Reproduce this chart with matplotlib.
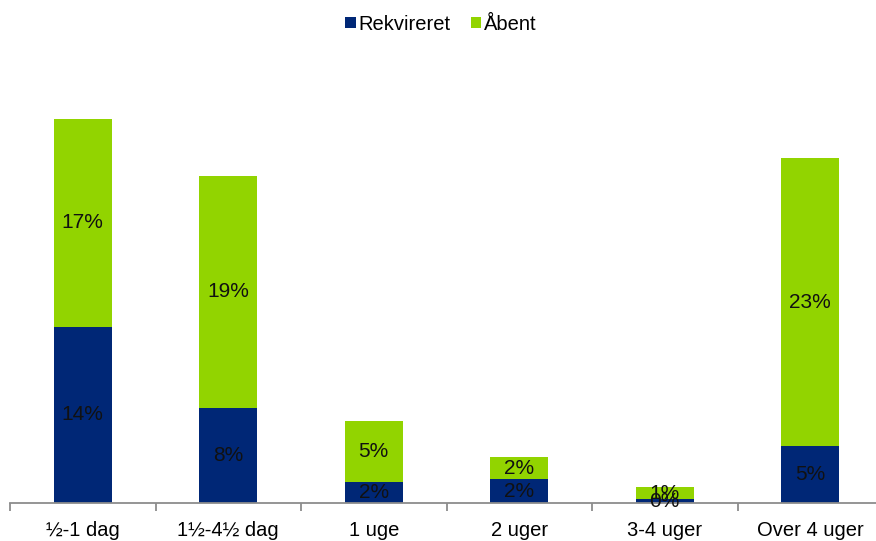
import matplotlib.pyplot as plt
import numpy as np

categories = ["½-1 dag", "1½-4½ dag", "1 uge", "2 uger", "3-4 uger", "Over 4 uger"]
rekvireret = [14.2, 7.7, 1.7, 1.9, 0.3, 4.6]
aabent = [16.8, 18.7, 4.9, 1.8, 1.0, 23.2]

BLUE = "#002776"
GREEN = "#92D400"
FS = 14.5

plt.rcParams["font.family"] = ["Liberation Sans", "DejaVu Sans"]

fig = plt.figure(figsize=(8.76, 5.41), dpi=100)
W, H = 876, 541
# 12.4 px per percent point
ax = fig.add_axes([10 / W, 38 / H, 873 / W, 33 * 12.4 / H])

x = np.arange(len(categories))
b1 = ax.bar(x, rekvireret, width=0.4, color=BLUE, label="Rekvireret")
b2 = ax.bar(x, aabent, width=0.4, bottom=rekvireret, color=GREEN, label="Åbent")

for i in range(len(categories)):
    ax.text(x[i], rekvireret[i] / 2, f"{rekvireret[i]:.0f}%", ha="center", va="center",
            fontsize=FS + 0.5, color="#111111")
    ax.text(x[i], rekvireret[i] + aabent[i] / 2, f"{aabent[i]:.0f}%", ha="center", va="center",
            fontsize=FS + 0.5, color="#111111")

ax.set_xlim(-0.5, len(categories) - 0.5)
ax.set_ylim(0, 33)
ax.set_yticks([])
for s in ["top", "right", "left"]:
    ax.spines[s].set_visible(False)
ax.spines["bottom"].set_color("#8c8c8c")
ax.spines["bottom"].set_linewidth(1.3)

ax.set_xticks(x)
ax.set_xticklabels(categories, fontsize=FS)
ax.tick_params(axis="x", which="major", length=0, pad=13)
ax.set_xticks(np.arange(-0.5, len(categories), 1.0), minor=True)
ax.tick_params(axis="x", which="minor", length=6, width=1.3, color="#8c8c8c")

fig.legend(handles=[b1, b2], loc="center", bbox_to_anchor=(441 / W, 1 - 24 / H), ncol=2,
           frameon=False, fontsize=FS, handlelength=0.5, handleheight=0.5,
           handletextpad=0.15, columnspacing=1.0)

fig.savefig("out.png", dpi=100)
